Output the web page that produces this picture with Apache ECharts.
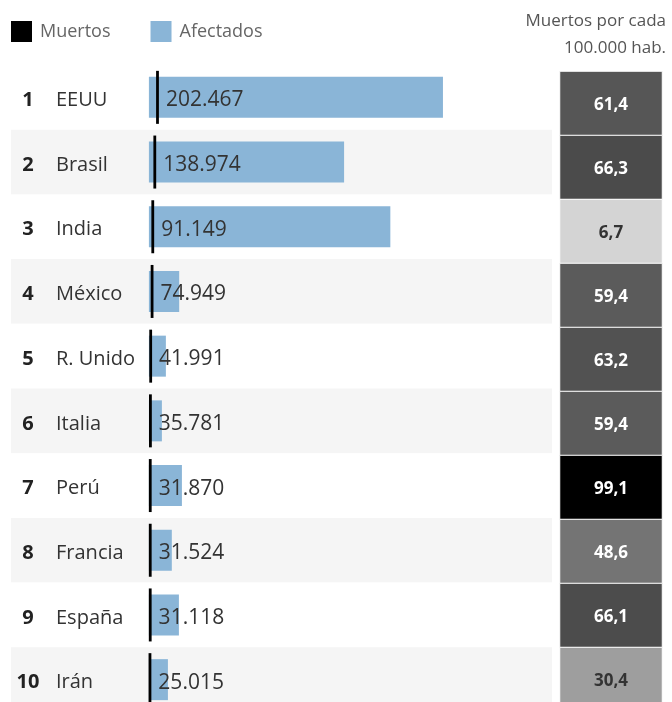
<!DOCTYPE html>
<html>
<head>
<meta charset="utf-8">
<script src="https://cdn.jsdelivr.net/npm/echarts@6/dist/echarts.min.js"></script>
<style>
  html, body { margin: 0; padding: 0; background: #ffffff; }
  #chart { width: 672px; height: 702px; }
</style>
</head>
<body>
<div id="chart"></div>
<script>
const categories = ['EEUU', 'Brasil', 'India', 'México', 'R. Unido', 'Italia', 'Perú', 'Francia', 'España', 'Irán'];
const ranks = [1, 2, 3, 4, 5, 6, 7, 8, 9, 10];
const deaths = [202467, 138974, 91149, 74949, 41991, 35781, 31870, 31524, 31118, 25015];
const affected = [6930000, 4600000, 5690000, 714000, 400000, 306000, 778000, 540000, 707000, 448000];
const deathsPer100k = [61.4, 66.3, 6.7, 59.4, 63.2, 59.4, 99.1, 48.6, 66.1, 30.4];

const FONT = 'Open Sans';
const fmtThousands = v => String(v).replace(/\B(?=(\d{3})+(?!\d))/g, '.');
const fmtDecimal = v => v.toFixed(1).replace('.', ',');

const headerStyle = { fontFamily: FONT, fontSize: 17, fontWeight: 'normal', color: '#555' };

const chart = echarts.init(document.getElementById('chart'));
chart.setOption({
  animation: false,
  textStyle: { fontFamily: FONT },
  title: [
    { text: 'Muertos por cada', right: 6, top: 13, padding: 0, textStyle: headerStyle },
    { text: '100.000 hab.', right: 6, top: 40, padding: 0, textStyle: headerStyle }
  ],
  legend: {
    data: ['Muertos', 'Afectados'],
    left: 11,
    top: 21,
    padding: 0,
    icon: 'rect',
    itemWidth: 21,
    itemHeight: 21,
    itemGap: 40,
    selectedMode: false,
    textStyle: { fontFamily: FONT, fontSize: 18, color: '#666', padding: [0, 0, 0, 3] }
  },
  grid: [
    { left: 11, width: 541, top: 65, height: 647, outerBoundsMode: 'none' },
    { left: 560, width: 102, top: 71.5, height: 640, outerBoundsMode: 'none' }
  ],
  xAxis: [
    { type: 'value', gridIndex: 0, min: -3250000, max: 9500000, show: false },
    { type: 'category', gridIndex: 1, data: [''], show: false }
  ],
  yAxis: [
    {
      type: 'category', gridIndex: 0, inverse: true, data: categories,
      axisLine: { show: false }, axisTick: { show: false },
      splitLine: { show: false },
      splitArea: { show: true, areaStyle: { color: ['#ffffff', '#f5f5f5'] } },
      axisLabel: {
        inside: true,
        margin: 5,
        padding: [6, 0, 0, 0],
        formatter: (v, i) => `{r|${ranks[i]}}{n|${v}}`,
        rich: {
          r: { width: 24, align: 'right', fontFamily: FONT, fontSize: 20, fontWeight: 'bold', color: '#222' },
          n: { padding: [0, 0, 0, 16], fontFamily: FONT, fontSize: 20, color: '#333' }
        }
      }
    },
    { type: 'category', gridIndex: 1, inverse: true, data: categories, show: false }
  ],
  visualMap: {
    show: false,
    type: 'continuous',
    seriesIndex: 2,
    dimension: 2,
    min: 6.7,
    max: 99.1,
    inRange: { color: ['#d4d4d4', '#000000'] }
  },
  series: [
    {
      name: 'Afectados',
      type: 'bar',
      xAxisIndex: 0, yAxisIndex: 0,
      data: affected,
      barWidth: 41,
      itemStyle: { color: '#8ab5d7' },
      silent: true,
      z: 2
    },
    {
      name: 'Muertos',
      type: 'scatter',
      xAxisIndex: 0, yAxisIndex: 0,
      data: deaths.map((d, i) => [d, i]),
      symbol: 'rect',
      symbolSize: [2.8, 53],
      itemStyle: { color: '#000000', opacity: 1 },
      label: {
        show: true,
        position: 'right',
        distance: 7,
        offset: [0, 3],
        formatter: p => fmtThousands(p.value[0]),
        fontFamily: FONT,
        fontSize: 21,
        color: '#333'
      },
      silent: true,
      z: 3
    },
    {
      name: 'Muertos por cada 100.000 hab.',
      type: 'heatmap',
      xAxisIndex: 1, yAxisIndex: 1,
      data: deathsPer100k.map((v, i) => ({
        value: [0, i, v],
        label: { color: v < 40 ? '#333333' : '#ffffff' }
      })),
      itemStyle: { borderColor: '#ffffff', borderWidth: 1 },
      label: {
        show: true,
        offset: [0, 2],
        formatter: p => fmtDecimal(p.value[2]),
        fontFamily: FONT,
        fontSize: 17,
        fontWeight: 'bold'
      },
      silent: true
    }
  ]
});
</script>
</body>
</html>
